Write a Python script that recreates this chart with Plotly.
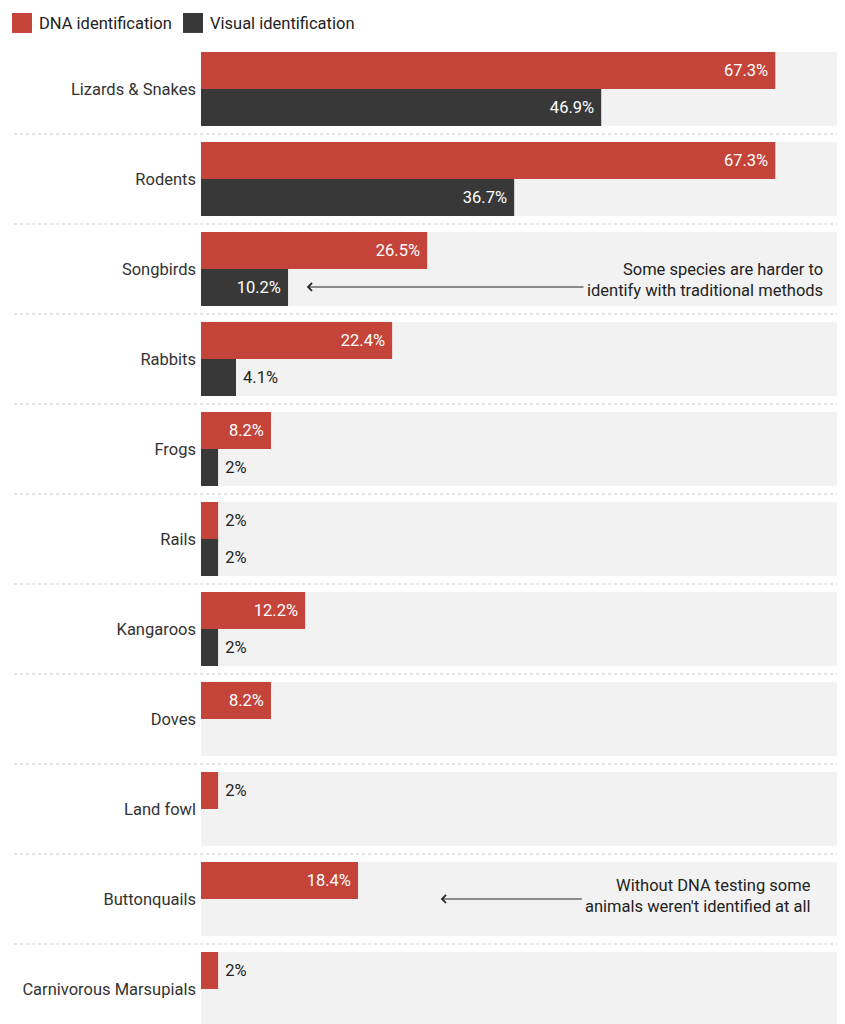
import plotly.graph_objects as go

# Share of samples identified, by animal group
categories = ["Lizards & Snakes", "Rodents", "Songbirds", "Rabbits", "Frogs", "Rails",
              "Kangaroos", "Doves", "Land fowl", "Buttonquails", "Carnivorous Marsupials"]
dna_pct = [67.3, 67.3, 26.5, 22.4, 8.2, 2, 12.2, 8.2, 2, 18.4, 2]
visual_pct = [46.9, 36.7, 10.2, 4.1, 2, 2, 2, None, None, None, None]
series_names = ["DNA identification", "Visual identification"]
notes = ["Some species are harder to<br>identify with traditional methods",
         "Without DNA testing some<br>animals weren't identified at all"]

RED = "#c5443a"
DARK = "#383838"
BAND = "#f2f2f2"
FONT = "Roboto"
FS = 16.5
PAD = "\u00a0"


def bar_labels(vals):
    text, pos = [], []
    for v in vals:
        if v is None:
            text.append("")
            pos.append("none")
        elif v >= 8:
            text.append(f"{v:g}%" + PAD)
            pos.append("inside")
        else:
            text.append(PAD + f"{v:g}%")
            pos.append("outside")
    return text, pos


fig = go.Figure()
for name, vals, color in [(series_names[0], dna_pct, RED), (series_names[1], visual_pct, DARK)]:
    text, pos = bar_labels(vals)
    fig.add_trace(go.Bar(
        y=categories, x=vals, name=name, orientation="h",
        marker=dict(color=color, line=dict(width=0)),
        text=text, textposition=pos, insidetextanchor="end",
        insidetextfont=dict(color="white", size=FS, family=FONT),
        outsidetextfont=dict(color="#222222", size=FS, family=FONT),
        constraintext="none", cliponaxis=False, showlegend=False,
        hoverinfo="skip",
    ))

shapes = []
# grey band behind each row, dotted separator between rows
for i in range(len(categories)):
    shapes.append(dict(type="rect", xref="paper", x0=0, x1=1, yref="y",
                       y0=i - 0.411, y1=i + 0.411, fillcolor=BAND,
                       line=dict(width=0), layer="below"))
    if i < len(categories) - 1:
        shapes.append(dict(type="line", xref="paper", x0=-0.292, x1=1, yref="y",
                           y0=i + 0.5, y1=i + 0.5,
                           line=dict(color="#c8c8c8", width=1, dash="dot"),
                           layer="below"))

# hand-made legend so the swatches are the right size
legend_items = [(series_names[0], RED, -0.2953), (series_names[1], DARK, -0.0281)]
annotations = []
for name, color, x0 in legend_items:
    shapes.append(dict(type="rect", xref="paper", yref="paper",
                       x0=x0, x1=x0 + 20 / 640, y0=1.0196, y1=1.0401,
                       fillcolor=color, line=dict(width=0)))
    annotations.append(dict(xref="paper", yref="paper", x=x0 + 25 / 640, y=1.0298,
                            text=name, showarrow=False, xanchor="left", yanchor="middle",
                            font=dict(size=FS, color="#222222", family=FONT)))

# notes with arrows
annotations += [
    dict(xref="paper", yref="y", x=0.975, y=2.122, text=notes[0], showarrow=False,
         xanchor="right", yanchor="middle", align="right",
         font=dict(size=FS, color="#222222", family=FONT)),
    dict(xref="x", yref="y", x=12.4, y=2.2, ax=45.0, ay=2.2, axref="x", ayref="y",
         text="", showarrow=True, arrowhead=4, arrowsize=1.4, arrowwidth=1.1,
         arrowcolor="#222222"),
    dict(xref="paper", yref="y", x=0.956, y=8.97, text=notes[1], showarrow=False,
         xanchor="right", yanchor="middle", align="right",
         font=dict(size=FS, color="#222222", family=FONT)),
    dict(xref="x", yref="y", x=28.1, y=9.0, ax=44.8, ay=9.0, axref="x", ayref="y",
         text="", showarrow=True, arrowhead=4, arrowsize=1.4, arrowwidth=1.1,
         arrowcolor="#222222"),
]

# page body adds an 8px margin, so the figure is a little smaller than the window
fig.update_layout(
    template="none",
    width=833, height=1016,
    margin=dict(l=193, r=0, t=44, b=0),
    paper_bgcolor="white", plot_bgcolor="white",
    barmode="group", bargap=0.178, bargroupgap=0,
    font=dict(family=FONT, size=FS, color="#333333"),
    shapes=shapes, annotations=annotations,
    xaxis=dict(range=[0, 75.0], visible=False, fixedrange=True),
    yaxis=dict(type="category", categoryorder="array", categoryarray=categories,
               range=[10.389, -0.411], showgrid=False, zeroline=False, ticks="",
               showline=False, ticklabelstandoff=4,
               tickfont=dict(size=FS, color="#333333", family=FONT)),
)

fig.write_html("out.html")
